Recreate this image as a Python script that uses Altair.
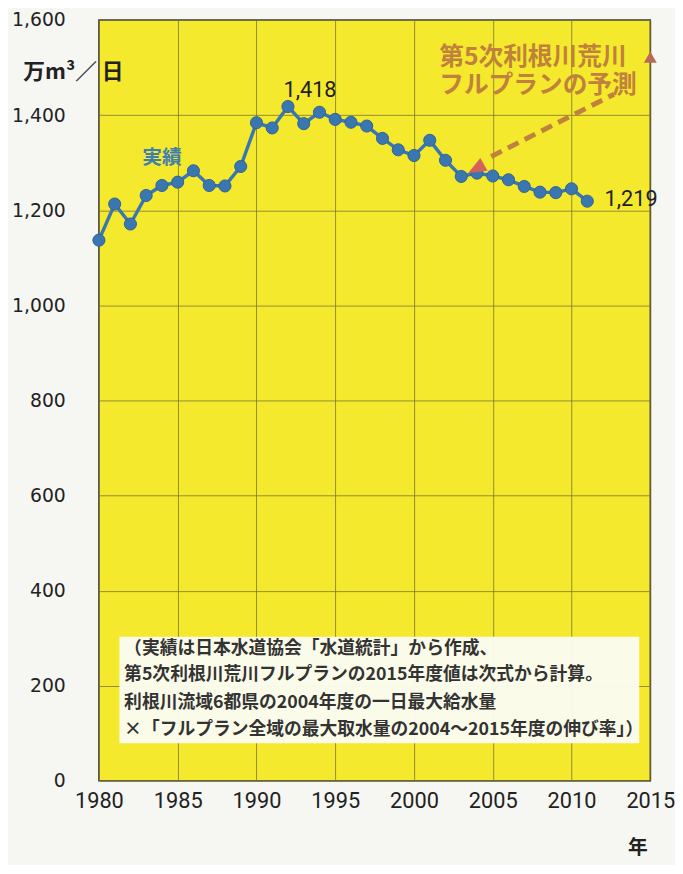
import altair as alt
import pandas as pd

# ---- data -------------------------------------------------------------
years = list(range(1980, 2012))
actual = [1137, 1213, 1171, 1231, 1252, 1259, 1283, 1252, 1251, 1292,
          1384, 1373, 1418, 1382, 1406, 1391, 1385, 1377, 1351, 1327,
          1315, 1347, 1305, 1271, 1278, 1272, 1264, 1250, 1238, 1237,
          1245, 1219]
x_ticks = [1980, 1985, 1990, 1995, 2000, 2005, 2010, 2015]
y_ticks = [0, 200, 400, 600, 800, 1000, 1200, 1400, 1600]

forecast_year = 2015
forecast_value = 1522
arrow_years = [2004.9, 2012.7]
arrow_values = [1313, 1444]
arrowhead_year = 2004.1
arrowhead_value = 1290

value_labels = ["1,418", "1,219"]
value_label_years = [1993.4, 2012.1]
value_label_values = [1453, 1224]

forecast_lines = ["第5次利根川荒川", "フルプランの予測"]
forecast_line_values = [1521, 1463]
forecast_text_year = 2001.6

note_lines = [
    "（実績は日本水道協会「水道統計」から作成、",
    "第5次利根川荒川フルプランの2015年度値は次式から計算。",
    "利根川流域6都県の2004年度の一日最大給水量",
    "×「フルプラン全域の最大取水量の2004〜2015年度の伸び率」）",
]
note_values = [277, 222, 163, 107]
note_year = 1981.6
note_box = {"year": 1981.3, "year2": 2014.3, "value": 79, "value2": 303}

# ---- tables -------------------------------------------------------------
df = pd.DataFrame({"year": years, "value": actual})
df_arrow = pd.DataFrame({"year": arrow_years, "value": arrow_values})
df_head = pd.DataFrame({"year": [arrowhead_year], "value": [arrowhead_value]})
df_fc = pd.DataFrame({"year": [forecast_year], "value": [forecast_value]})
df_peak = pd.DataFrame({"year": [value_label_years[0]], "value": [value_label_values[0]],
                        "text": [value_labels[0]]})
df_end = pd.DataFrame({"year": [value_label_years[1]], "value": [value_label_values[1]],
                       "text": [value_labels[1]]})
df_fct = pd.DataFrame({"year": [forecast_text_year] * 2,
                       "value": forecast_line_values, "text": forecast_lines})
df_note = pd.DataFrame({"year": [note_year] * 4, "value": note_values,
                        "text": note_lines})
df_box = pd.DataFrame([note_box])
df_jj = pd.DataFrame({"year": [1984.0], "value": [1310], "text": ["実績"]})

BLUE = "#3a77b0"
TAN = "#c0813c"
NUMFONT = "Roboto"
# arrowhead pointing down-left along the dashed line
ARROW_PATH = "M-0.873,0.487L0.729,0.28L0.145,-0.768Z"

x_axis = alt.Axis(values=x_ticks, format="d", title="年", grid=True,
                  gridColor="#7a7530", gridWidth=1, gridOpacity=0.8,
                  domain=False, ticks=False, labelPadding=10, labelOverlap=False,
                  labelFlush=False,
                  labelFont=NUMFONT, labelFontSize=22, labelColor="#222",
                  titleFont="Noto Sans CJK JP", titleFontSize=20,
                  titleFontWeight="bold", titleColor="#222",
                  titleAnchor="start", titleAlign="center", titleBaseline="middle",
                  titleX=545, titleY=68)
y_axis = alt.Axis(values=y_ticks, format=",d", title="万m³／ 日", grid=True,
                  gridColor="#7a7530", gridWidth=1, gridOpacity=0.8,
                  domain=False, ticks=False, labelPadding=34, labelOverlap=False,
                  labelFlush=False,
                  labelFont="DejaVu Sans", labelFontSize=19, labelColor="#222",
                  labelBaseline="middle",
                  titleFont="Noto Sans CJK JP", titleFontSize=22,
                  titleFontWeight="bold", titleColor="#222", titleAngle=0,
                  titleAlign="left", titleBaseline="middle",
                  titleAnchor="start", titleX=-77, titleY=52)


def X(field="year"):
    return alt.X(f"{field}:Q", scale=alt.Scale(domain=[1980, 2015], nice=False,
                                                zero=False), axis=x_axis)


def Y(field="value"):
    return alt.Y(f"{field}:Q", scale=alt.Scale(domain=[0, 1600], nice=False),
                 axis=y_axis)


box = alt.Chart(df_box).mark_rect(fill="#fbfbf1", opacity=0.96).encode(
    x=X(), x2="year2:Q", y=Y(), y2="value2:Q")

note = alt.Chart(df_note).mark_text(
    align="left", baseline="middle", font="Noto Sans CJK JP",
    fontSize=18, fontWeight="bold", color="#333").encode(
    x=X(), y=Y(), text="text:N")

line = alt.Chart(df).mark_line(color=BLUE, strokeWidth=3.5).encode(x=X(), y=Y())
pts = alt.Chart(df).mark_point(filled=True, color=BLUE, size=150, opacity=1,
                               stroke="#2f6391", strokeWidth=1).encode(x=X(), y=Y())

dash = alt.Chart(df_arrow).mark_line(color=TAN, strokeWidth=5,
                                     strokeDash=[12, 7]).encode(x=X(), y=Y())
head = alt.Chart(df_head).mark_point(shape=ARROW_PATH, filled=True,
                                     color="#d2625a", size=600,
                                     opacity=1).encode(x=X(), y=Y())
fc = alt.Chart(df_fc).mark_point(shape="triangle-up", filled=True,
                                 color="#b9685a", size=170, opacity=1).encode(x=X(), y=Y())

fct = alt.Chart(df_fct).mark_text(
    align="left", baseline="middle", font="Noto Sans CJK JP",
    fontSize=25, fontWeight="bold", color=TAN).encode(x=X(), y=Y(), text="text:N")

jj = alt.Chart(df_jj).mark_text(
    align="center", baseline="middle", font="Noto Sans CJK JP",
    fontSize=20, fontWeight="bold", color="#3f7eaf").encode(x=X(), y=Y(), text="text:N")

vl_peak = alt.Chart(df_peak).mark_text(
    align="center", baseline="middle", font=NUMFONT,
    fontSize=22, color="#222").encode(x=X(), y=Y(), text="text:N")
vl_end = alt.Chart(df_end).mark_text(
    align="left", baseline="middle", font=NUMFONT,
    fontSize=22, color="#222").encode(x=X(), y=Y(), text="text:N")

chart = alt.layer(box, note, line, pts, dash, head, fc, fct, vl_peak, vl_end, jj).properties(
    width=558, height=770,
    autosize=alt.AutoSizeParams(type="none"),
    padding={"left": 92, "top": 7, "right": 25, "bottom": 80},
    background="#f6f6f2",
).configure_view(fill="#f4e92d", stroke="#3a3a3a", strokeWidth=1.5)

chart.save("out.html", embed_options={"renderer": "svg", "actions": False})
